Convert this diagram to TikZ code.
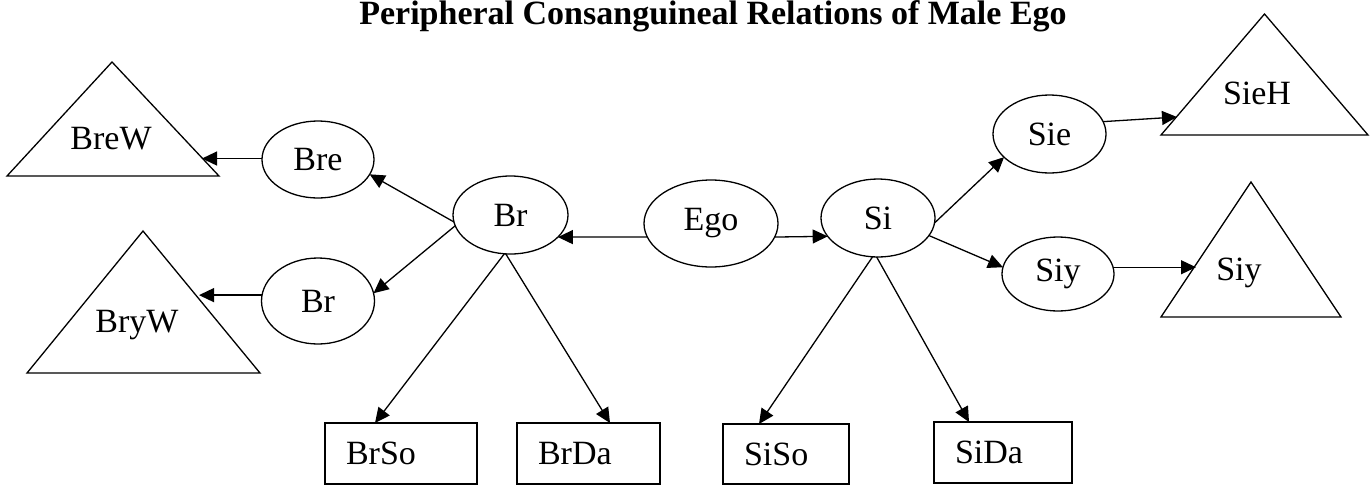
\documentclass[tikz,border=0pt]{standalone}
\usepackage{fontspec}
\setmainfont{Liberation Serif}
\usetikzlibrary{shapes.geometric,arrows.meta}
\begin{document}
\begin{tikzpicture}[x=1pt,y=-1pt,
  every node/.style={font=\fontsize{34}{40}\selectfont},
  kin/.style={draw,ellipse,line width=1.3pt,inner sep=0pt,outer sep=0pt},
  kid/.style={draw,rectangle,line width=1.3pt,anchor=north west,align=left,
    inner xsep=21pt,inner ysep=0pt,outer sep=0pt,minimum height=61pt},
  spouse/.style={draw,line width=1.3pt,line join=miter},
  tag/.style={anchor=base,inner sep=0pt},
  link/.style={line width=1.3pt,-{Triangle[length=15pt,width=14pt]}}
]
\useasboundingbox (0,0) rectangle (1372,485);

% heading
\node[tag,font=\bfseries\fontsize{34}{40}\selectfont] (title) at (713,24)
  {Peripheral Consanguineal Relations of Male Ego};

% ego and siblings
\node[kin,minimum width=134pt,minimum height=87pt] (Ego) at (711,223.5) {Ego};
\node[kin,minimum width=115pt,minimum height=78pt] (Br)  at (510.5,215) {Br};
\node[kin,minimum width=114pt,minimum height=78pt] (Si)  at (878,218) {Si};

% elder / younger siblings
\node[kin,minimum width=112pt,minimum height=77pt] (Bre) at (318,159.5) {Bre};
\node[kin,minimum width=113pt,minimum height=86pt] (Bry) at (318,301) {Br};
\node[kin,minimum width=113pt,minimum height=78pt] (Sie) at (1049.5,134) {Sie};
\node[kin,minimum width=112pt,minimum height=74pt] (Siy) at (1058,274) {Siy};

% affines (triangles)
\draw[spouse] (112,62) -- (219,176) -- (7,176) -- cycle;
\node[tag] (BreW) at (111,149) {BreW};
\coordinate (BreWtip) at (202,158);

\draw[spouse] (143,231) -- (260,373) -- (27,373) -- cycle;
\node[tag] (BryW) at (137,332) {BryW};
\coordinate (BryWtip) at (199,296);

\draw[spouse] (1264.5,14) -- (1368,135) -- (1161,135) -- cycle;
\node[tag] (SieH) at (1257,104) {SieH};
\coordinate (SieHtip) at (1177,117);

\draw[spouse] (1251,182) -- (1341,317) -- (1161,317) -- cycle;
\node[tag] (SiyH) at (1239,280) {Siy};
\coordinate (SiyHtip) at (1196,267);

% children of siblings
\node[kid,text width=110pt] (BrSo) at (325,423) {BrSo};
\node[kid,text width=101pt] (BrDa) at (517,423) {BrDa};
\node[kid,text width=84pt,minimum height=60pt] (SiSo) at (723,424) {SiSo};
\node[kid,text width=96pt] (SiDa) at (934,422) {SiDa};

% connectors
\draw[link] (Ego.192) -- (Br.-25);
\draw[link] (Ego.-12) -- (Si.200);

\draw[link] (Br.187) -- (Bre.-16);
\draw[link] (Br.191) -- (Bry.8);
\draw[link] (Bre.179) -- (Bre.179 -| BreWtip);
\draw[link] (Bry.174) -- (Bry.174 -| BryWtip);

\draw[link] (Br.261) -- ([xshift=50pt]BrSo.north west);
\draw[link] (Br.263) -- ([xshift=93pt]BrDa.north west);

\draw[link] (Si.-5) -- (Sie.207);
\draw[link] (Si.-19) -- (Siy.173);
\draw[link] (Sie.13) -- (SieHtip);
\draw[link] (Siy.7) -- (Siy.7 -| SiyHtip);

\draw[link] (Si.262) -- ([xshift=36pt]SiSo.north west);
\draw[link] (Si.268) -- ([xshift=35pt]SiDa.north west);
\end{tikzpicture}
\end{document}
